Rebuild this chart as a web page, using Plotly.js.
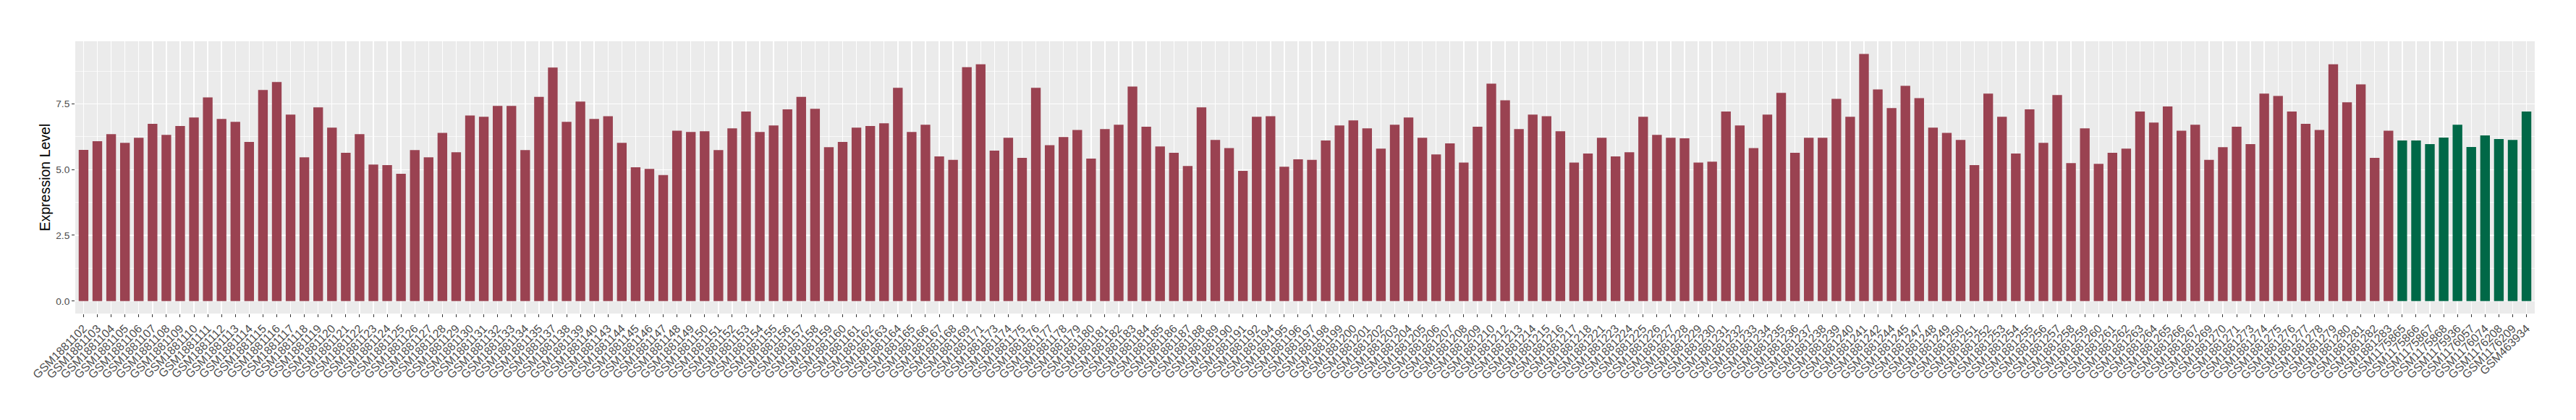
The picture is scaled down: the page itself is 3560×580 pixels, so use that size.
<!DOCTYPE html>
<html>
<head>
<meta charset="utf-8">
<script src="https://cdn.plot.ly/plotly-3.0.1.min.js"></script>
<style>html,body{margin:0;padding:0;background:#fff;}#chart{width:3560px;height:580px;}</style>
</head>
<body>
<div id="chart"></div>
<script>
// Group 1 (dark red) samples and expression levels
const redSamples = [
"GSM1881102","GSM1881103","GSM1881104","GSM1881105","GSM1881106","GSM1881107","GSM1881108","GSM1881109","GSM1881110","GSM1881111",
"GSM1881112","GSM1881113","GSM1881114","GSM1881115","GSM1881116","GSM1881117","GSM1881118","GSM1881119","GSM1881120","GSM1881121",
"GSM1881122","GSM1881123","GSM1881124","GSM1881125","GSM1881126","GSM1881127","GSM1881128","GSM1881129","GSM1881130","GSM1881131",
"GSM1881132","GSM1881133","GSM1881134","GSM1881135","GSM1881137","GSM1881138","GSM1881139","GSM1881140","GSM1881143","GSM1881144",
"GSM1881145","GSM1881146","GSM1881147","GSM1881148","GSM1881149","GSM1881150","GSM1881151","GSM1881152","GSM1881153","GSM1881154",
"GSM1881155","GSM1881156","GSM1881157","GSM1881158","GSM1881159","GSM1881160","GSM1881161","GSM1881162","GSM1881163","GSM1881164",
"GSM1881165","GSM1881166","GSM1881167","GSM1881168","GSM1881169","GSM1881171","GSM1881173","GSM1881174","GSM1881175","GSM1881176",
"GSM1881177","GSM1881178","GSM1881179","GSM1881180","GSM1881181","GSM1881182","GSM1881183","GSM1881184","GSM1881185","GSM1881186",
"GSM1881187","GSM1881188","GSM1881189","GSM1881190","GSM1881191","GSM1881192","GSM1881194","GSM1881195","GSM1881196","GSM1881197",
"GSM1881198","GSM1881199","GSM1881200","GSM1881201","GSM1881202","GSM1881203","GSM1881204","GSM1881205","GSM1881206","GSM1881207",
"GSM1881208","GSM1881209","GSM1881210","GSM1881212","GSM1881213","GSM1881214","GSM1881215","GSM1881216","GSM1881217","GSM1881218",
"GSM1881221","GSM1881223","GSM1881224","GSM1881225","GSM1881226","GSM1881227","GSM1881228","GSM1881229","GSM1881230","GSM1881231",
"GSM1881232","GSM1881233","GSM1881234","GSM1881235","GSM1881236","GSM1881237","GSM1881238","GSM1881239","GSM1881240","GSM1881241",
"GSM1881242","GSM1881244","GSM1881245","GSM1881247","GSM1881248","GSM1881249","GSM1881250","GSM1881251","GSM1881252","GSM1881253",
"GSM1881254","GSM1881255","GSM1881256","GSM1881257","GSM1881258","GSM1881259","GSM1881260","GSM1881261","GSM1881262","GSM1881263",
"GSM1881264","GSM1881265","GSM1881266","GSM1881267","GSM1881269","GSM1881270","GSM1881271","GSM1881273","GSM1881274","GSM1881275",
"GSM1881276","GSM1881277","GSM1881278","GSM1881279","GSM1881280","GSM1881281","GSM1881282","GSM1881283"
];
const redValues = [
5.75,6.08,6.35,6.02,6.21,6.74,6.32,6.66,6.98,7.75,
6.93,6.82,6.05,8.03,8.33,7.09,5.47,7.37,6.60,5.64,
6.35,5.19,5.17,4.84,5.74,5.47,6.40,5.66,7.06,7.01,
7.42,7.42,5.74,7.77,8.88,6.82,7.59,6.93,7.03,6.02,
5.09,5.03,4.79,6.48,6.43,6.46,5.74,6.57,7.21,6.43,
6.68,7.29,7.77,7.31,5.85,6.05,6.60,6.66,6.76,8.11,
6.43,6.71,5.50,5.37,8.90,9.01,5.72,6.21,5.45,8.11,
5.93,6.24,6.51,5.42,6.54,6.71,8.16,6.63,5.88,5.64,
5.14,7.37,6.13,5.82,4.95,7.01,7.03,5.11,5.39,5.37,
6.11,6.68,6.87,6.57,5.80,6.71,6.98,6.21,5.58,6.00,
5.27,6.63,8.27,7.64,6.54,7.09,7.03,6.46,5.27,5.61,
6.21,5.50,5.66,7.01,6.32,6.21,6.19,5.27,5.30,7.21,
6.68,5.82,7.09,7.92,5.64,6.21,6.21,7.69,7.01,9.40,
8.05,7.34,8.19,7.72,6.60,6.40,6.13,5.17,7.89,7.01,
5.61,7.29,6.02,7.84,5.25,6.57,5.22,5.64,5.80,7.21,
6.79,7.40,6.48,6.71,5.37,5.85,6.63,5.97,7.89,7.80,
7.21,6.74,6.51,9.01,7.56,8.24,5.45,6.48
];
// Group 2 (dark green) samples and expression levels
const greenSamples = ["GSM1175865","GSM1175866","GSM1175867","GSM1175868","GSM1175936","GSM1176057","GSM1176074","GSM1176208","GSM1176209","GSM463934"];
const greenValues = [6.11,6.11,5.97,6.22,6.71,5.86,6.30,6.16,6.13,7.21];

const yTickVals = [0, 2.5, 5, 7.5];
const yTickText = ["0.0", "2.5", "5.0", "7.5"];

const allSamples = redSamples.concat(greenSamples);
const n = allSamples.length;

const traces = [
  {type: "bar", x: redSamples, y: redValues, width: 0.7,
   marker: {color: "#9A4251", line: {width: 0}}, showlegend: false, hoverinfo: "x+y"},
  {type: "bar", x: greenSamples, y: greenValues, width: 0.7,
   marker: {color: "#006847", line: {width: 0}}, showlegend: false, hoverinfo: "x+y"}
];

const layout = {
  width: 3560, height: 580,
  margin: {l: 104, r: 57, t: 57, b: 147, pad: 0},
  paper_bgcolor: "#FFFFFF",
  plot_bgcolor: "#EBEBEB",
  barmode: "overlay",
  showlegend: false,
  font: {family: "Liberation Sans, Arial, sans-serif", color: "#4D4D4D"},
  xaxis: {
    type: "category",
    categoryorder: "array", categoryarray: allSamples,
    range: [-0.6, n - 0.4],
    tickmode: "array", tickvals: allSamples, ticktext: allSamples,
    tickangle: -45,
    tickfont: {family: "Liberation Sans, Arial, sans-serif", size: 16, color: "#4D4D4D"},
    ticks: "outside", ticklen: 4, tickwidth: 1, tickcolor: "#333333",
    showgrid: true, gridcolor: "#FFFFFF", gridwidth: 1.4,
    zeroline: false, showline: false, automargin: false, fixedrange: true
  },
  yaxis: {
    range: [-0.476, 9.882],
    tickmode: "array", tickvals: yTickVals, ticktext: yTickText,
    tickfont: {family: "Liberation Sans, Arial, sans-serif", size: 13.7, color: "#4D4D4D"},
    ticks: "outside", ticklen: 4, tickwidth: 1, tickcolor: "#333333",
    showgrid: true, gridcolor: "#FFFFFF", gridwidth: 1.4,
    minor: {tickmode: "array", tickvals: [1.25, 3.75, 6.25, 8.75], showgrid: true, gridcolor: "#FFFFFF", gridwidth: 0.7, ticks: ""},
    zeroline: false, showline: false, automargin: false, fixedrange: true,
    title: {text: "Expression Level", font: {family: "Liberation Sans, Arial, sans-serif", size: 19.5, color: "#000000"}, standoff: 2}
  }
};

Plotly.newPlot("chart", traces, layout, {staticPlot: true, displayModeBar: false});
</script>
</body>
</html>
